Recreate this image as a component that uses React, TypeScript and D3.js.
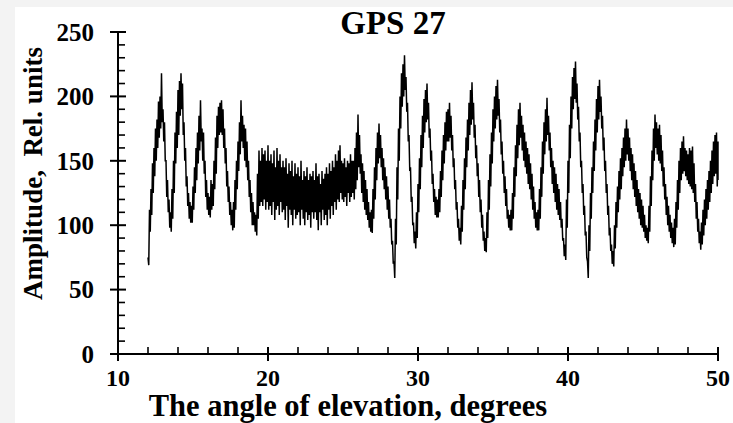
import React from "react";
import * as d3 from "d3";

// elevation angle of the first sample and spacing of the samples, degrees
const angleStart = 12;
const angleStep = 0.1;

// upper and lower edge of the noisy trace, rel. units, every 0.1 degree (12.0 .. 50.0)
const ampHigh = [
  75, 112, 128, 148, 160, 175, 182, 196, 200, 218,
  190, 180, 150, 135, 120, 110, 128, 150, 172, 188,
  205, 212, 218, 210, 180, 160, 138, 125, 118, 115,
  130, 145, 160, 172, 185, 197, 175, 172, 150, 135,
  125, 122, 135, 132, 150, 168, 185, 192, 195, 197,
  190, 175, 160, 142, 130, 118, 112, 118, 135, 150,
  165, 180, 197, 185, 178, 175, 165, 150, 135, 125,
  118, 110, 108, 140, 158, 150, 160, 155, 158, 150,
  162, 150, 155, 148, 158, 145, 160, 150, 155, 145,
  150, 145, 152, 140, 148, 142, 150, 138, 148, 140,
  145, 138, 150, 135, 142, 138, 145, 135, 140, 138,
  142, 135, 148, 138, 140, 132, 142, 136, 140, 145,
  140, 148, 142, 150, 145, 155, 150, 158, 162, 150,
  148, 152, 145, 150, 148, 155, 150, 150, 160, 172,
  186, 170, 155, 148, 142, 135, 128, 118, 110, 112,
  128, 145, 160, 172, 179, 170, 160, 152, 145, 138,
  130, 120, 105, 88, 72, 105, 145, 175, 200, 218,
  225, 232, 215, 195, 170, 145, 122, 102, 95, 110,
  132, 152, 170, 185, 198, 205, 210, 195, 175, 158,
  140, 128, 122, 120, 128, 142, 158, 170, 180, 188,
  190, 195, 185, 170, 152, 135, 118, 105, 98, 115,
  135, 152, 168, 182, 195, 205, 211, 195, 178, 162,
  148, 135, 120, 108, 95, 90, 110, 135, 155, 172,
  190, 200, 208, 213, 198, 182, 165, 150, 138, 128,
  112, 108, 112, 125, 145, 162, 178, 190, 195, 185,
  178, 172, 165, 160, 155, 148, 140, 130, 118, 110,
  112, 128, 145, 165, 180, 190, 199, 185, 172, 160,
  150, 145, 140, 132, 128, 118, 105, 90, 85, 120,
  150, 178, 200, 215, 222, 227, 210, 192, 172, 150,
  132, 115, 95, 72, 100, 125, 145, 165, 182, 198,
  208, 213, 200, 185, 168, 150, 132, 115, 98, 85,
  80, 100, 118, 130, 142, 152, 160, 168, 175, 182,
  175, 168, 160, 155, 148, 142, 135, 128, 125, 120,
  115, 108, 100, 98, 115, 138, 158, 175, 186, 180,
  175, 178, 170, 158, 145, 132, 122, 115, 108, 102,
  98, 105, 118, 135, 150, 160, 165, 169, 160, 158,
  155, 160, 158, 161, 148, 132, 118, 105, 95, 102,
  112, 120, 128, 135, 142, 150, 158, 165, 170, 172,
  165,
];

const ampLow = [
  69, 95, 108, 125, 138, 150, 160, 168, 175, 180,
  165, 150, 122, 110, 98, 95, 105, 125, 148, 160,
  170, 185, 190, 170, 150, 130, 115, 105, 102, 102,
  112, 125, 135, 148, 158, 165, 150, 140, 122, 112,
  108, 106, 112, 115, 128, 140, 160, 170, 172, 170,
  160, 148, 130, 118, 108, 100, 96, 98, 112, 128,
  142, 155, 165, 160, 150, 145, 135, 122, 110, 100,
  100, 95, 92, 105, 115, 118, 115, 120, 112, 118,
  112, 115, 108, 118, 104, 112, 115, 108, 118, 110,
  112, 104, 115, 98, 112, 108, 100, 112, 105, 108,
  110, 100, 112, 105, 100, 110, 104, 108, 98, 110,
  105, 110, 104, 96, 110, 100, 112, 104, 108, 100,
  112, 105, 115, 108, 118, 112, 120, 118, 125, 120,
  118, 122, 115, 125, 118, 122, 125, 120, 128, 135,
  145, 140, 125, 118, 112, 108, 104, 98, 95, 94,
  105, 120, 135, 148, 152, 145, 135, 128, 120, 112,
  105, 98, 85, 70, 59, 85, 120, 150, 175, 192,
  200, 205, 188, 165, 142, 118, 100, 86, 82, 90,
  110, 128, 145, 160, 172, 180, 182, 168, 150, 132,
  118, 108, 106, 106, 110, 122, 135, 148, 158, 165,
  165, 168, 158, 145, 128, 112, 98, 88, 85, 95,
  112, 128, 145, 158, 170, 178, 182, 168, 152, 138,
  122, 110, 98, 88, 80, 79, 90, 112, 130, 148,
  165, 175, 182, 185, 172, 155, 140, 125, 115, 105,
  98, 96, 96, 105, 122, 138, 152, 162, 168, 158,
  150, 145, 140, 132, 128, 120, 112, 105, 98, 96,
  96, 105, 122, 140, 155, 165, 170, 158, 145, 132,
  125, 118, 112, 108, 104, 98, 88, 76, 73, 98,
  125, 152, 175, 190, 198, 195, 182, 165, 145, 125,
  108, 92, 75, 59, 80, 105, 125, 142, 158, 172,
  182, 188, 175, 158, 142, 125, 108, 92, 80, 70,
  68, 82, 98, 110, 120, 128, 138, 145, 150, 155,
  150, 142, 135, 128, 122, 115, 110, 105, 100, 98,
  95, 90, 88, 86, 95, 115, 135, 150, 160, 155,
  150, 148, 142, 130, 120, 108, 100, 95, 90, 86,
  83, 85, 98, 112, 125, 135, 140, 142, 138, 135,
  132, 130, 128, 125, 118, 105, 95, 86, 81, 85,
  92, 100, 105, 112, 118, 125, 132, 138, 140, 130,
  135,
];

const xMajor = [10, 20, 30, 40, 50];
const yMajor = [0, 50, 100, 150, 200, 250];

const W = 733;
const H = 423;
const font = "'Liberation Serif', 'Times New Roman', serif";

export default function App() {
  const x = d3.scaleLinear().domain([10, 50]).range([118, 718]);
  const y = d3.scaleLinear().domain([0, 250]).range([354, 32]);

  // the trace swings between its upper and lower edge at each step
  const pts: [number, number][] = [];
  ampHigh.forEach((hi, i) => {
    const a = angleStart + i * angleStep;
    pts.push([a, hi]);
    if (i < ampHigh.length - 1) pts.push([a + angleStep / 2, ampLow[i]]);
    else pts.push([a, ampLow[i]]);
  });
  const path = d3
    .line<[number, number]>()
    .x((d) => x(d[0]))
    .y((d) => y(d[1]))(pts);

  const xMinor = d3.range(10, 50.01, 2).filter((v) => !xMajor.includes(v));
  const yMinor = d3.range(0, 250.01, 10).filter((v) => !yMajor.includes(v));

  return (
    <svg
      width={W}
      height={H}
      style={{ position: "absolute", left: 0, top: 0 }}
      fontFamily={font}
      fontWeight="bold"
    >
      <rect width={W} height={H} fill="#f3f3f3" />
      <rect x={15} y={7} width={W - 15} height={H - 7} fill="#fff" />

      {/* axes */}
      <line x1={x(10)} x2={x(50)} y1={y(0)} y2={y(0)} stroke="#000" strokeWidth={2} />
      <line x1={x(10)} x2={x(10)} y1={y(0)} y2={y(250)} stroke="#000" strokeWidth={2} />

      {yMajor.map((v) => (
        <g key={"ym" + v}>
          <line x1={x(10) - 8} x2={x(10) + 8} y1={y(v)} y2={y(v)} stroke="#000" strokeWidth={2} />
          <text x={94} y={y(v)} dy="0.35em" textAnchor="end" fontSize={25}>
            {v}
          </text>
        </g>
      ))}
      {yMinor.map((v) => (
        <line key={"yn" + v} x1={x(10)} x2={x(10) + 7} y1={y(v)} y2={y(v)} stroke="#000" strokeWidth={1.6} />
      ))}

      {xMajor.map((v) => (
        <g key={"xm" + v}>
          <line x1={x(v)} x2={x(v)} y1={y(0) - 7} y2={y(0) + 7} stroke="#000" strokeWidth={2} />
          <text x={x(v)} y={386} textAnchor="middle" fontSize={24}>
            {v}
          </text>
        </g>
      ))}
      {xMinor.map((v) => (
        <line key={"xn" + v} x1={x(v)} x2={x(v)} y1={y(0) - 7} y2={y(0)} stroke="#000" strokeWidth={1.6} />
      ))}

      <path d={path ?? ""} fill="none" stroke="#000" strokeWidth={1.5} strokeLinejoin="miter" />

      <text x={393} y={34} textAnchor="middle" fontSize={33}>
        GPS 27
      </text>
      <text x={348} y={416} textAnchor="middle" fontSize={30.5}>
        The angle of elevation, degrees
      </text>
      <text
        transform={`translate(42, ${(50 + 297) / 2}) rotate(-90)`}
        textAnchor="middle"
        fontSize={27}
        style={{ whiteSpace: "pre" }}
      >
        {"Amplitude,  Rel. units"}
      </text>
    </svg>
  );
}
